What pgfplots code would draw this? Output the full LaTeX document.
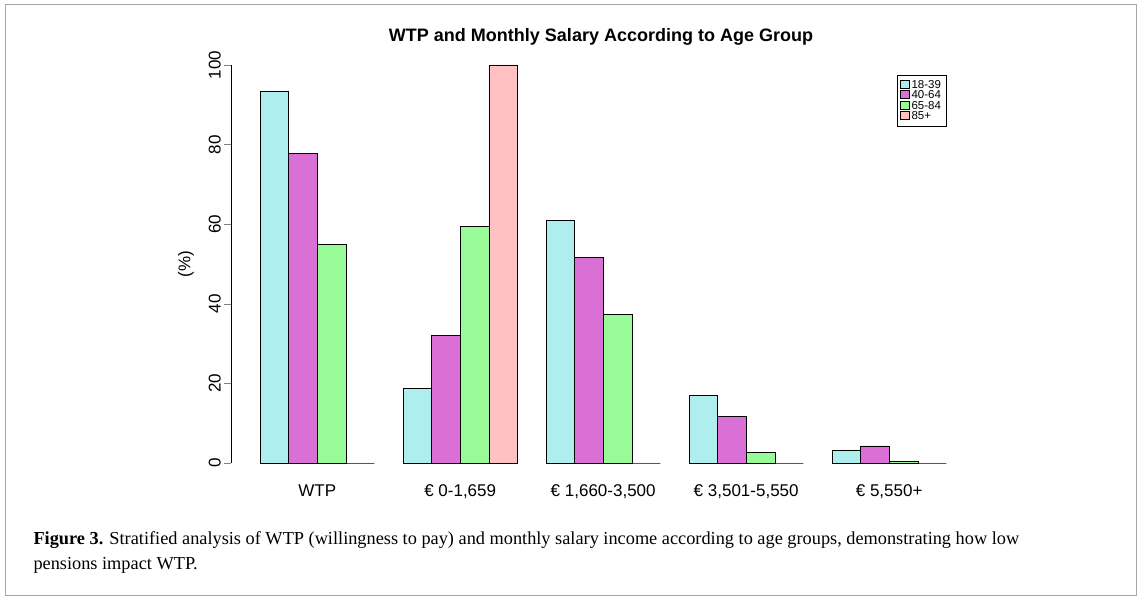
\documentclass[border=0pt]{standalone}
\usepackage{pgfplots}
\pgfplotsset{compat=1.18}
\usepackage{fontspec}
\setmainfont{Liberation Sans}
\newfontfamily\capfont{Liberation Serif}
\definecolor{c1}{HTML}{AFEEEE}
\definecolor{c2}{HTML}{DA70D6}
\definecolor{c3}{HTML}{98FB98}
\definecolor{c4}{HTML}{FFC1C1}
\begin{document}
\begin{tikzpicture}[x=1pt,y=1pt]
\path[fill=white] (0,0) rectangle (1141,600);
\draw[gray!70,line width=1pt] (5,5) rectangle (1136,595);
\node[font=\bfseries\fontsize{18}{20}\selectfont] at (601,563) {WTP and Monthly Salary According to Age Group};
\begin{axis}[
  at={(231.4pt,137pt)}, anchor=origin,
  x=28.6pt, y=3.98pt,
  xmin=0, xmax=25, ymin=0, ymax=100,
  clip=false,
  /pgf/number format/assume math mode=true,
  axis y line=left, axis x line=bottom,
  x axis line style={draw=none}, xtick style={draw=none},
  y axis line style={-},
  ytick={0,20,40,60,80,100},
  yticklabel style={rotate=90,anchor=south,font=\fontsize{17}{19}\selectfont},
  tick align=outside, major tick length=7pt,
  xtick={3,8,13,18,23},
  xticklabels={WTP,€ 0-1{,}659,€ 1{,}660-3{,}500,€ 3{,}501-5{,}550,€ 5{,}550+},
  xticklabel style={font=\fontsize{17}{19}\selectfont,yshift=-11pt},
  ylabel={(\%)}, ylabel style={font=\fontsize{17}{19}\selectfont,yshift=8pt},
  ybar, bar width=28.6pt, bar shift=0pt,
  legend style={at={(axis cs:23.27,97.5)},anchor=north west,font=\fontsize{11.5}{11}\selectfont,draw=black,inner sep=3pt,row sep=-3pt,cells={anchor=west}},
  legend image code/.code={\draw[#1,draw=black] (0pt,-3pt) rectangle (9pt,5pt);},
]
\addplot[fill=c1,draw=black] coordinates {(1.5,93.5) (6.5,18.7) (11.5,61) (16.5,17) (21.5,3.3)};
\addplot[fill=c2,draw=black] coordinates {(2.5,77.8) (7.5,32) (12.5,51.6) (17.5,11.7) (22.5,4.3)};
\addplot[fill=c3,draw=black] coordinates {(3.5,55) (8.5,59.5) (13.5,37.3) (18.5,2.7) (23.5,0.5)};
\addplot[fill=c4,draw=black] coordinates {(4.5,0) (9.5,100) (14.5,0) (19.5,0) (24.5,0)};
\legend{18-39,40-64,65-84,85+}
\end{axis}
\node[anchor=north west,align=left,font=\capfont\fontsize{18.3}{25}\selectfont] at (30,72)
 {\textbf{Figure 3.} Stratified analysis of WTP (willingness to pay) and monthly salary income according to age groups, demonstrating how low\\pensions impact WTP.};
\end{tikzpicture}
\end{document}
